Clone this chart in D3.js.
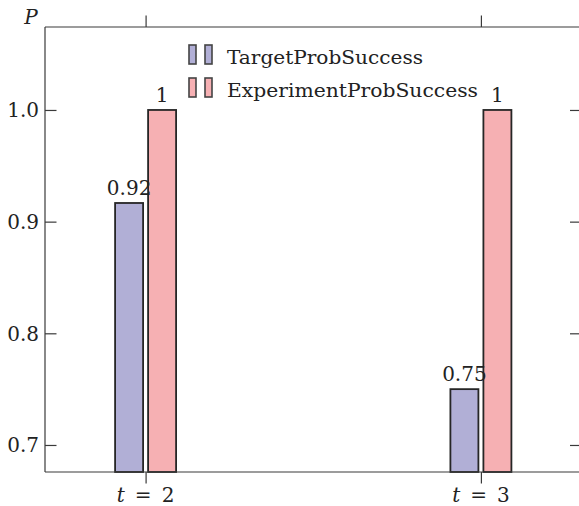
<!DOCTYPE html>
<html>
<head>
<meta charset="utf-8">
<script src="https://cdn.jsdelivr.net/npm/d3@7/dist/d3.min.js"></script>
<style>
  html, body { margin: 0; padding: 0; background: #fff; }
  svg { display: block; }
</style>
</head>
<body>
<svg id="chart" width="579" height="506"></svg>
<script>
// Time steps and the two series of success probabilities
const steps = [2, 3];
const targetProb = [0.9167, 0.75];
const experimentProb = [1.0, 1.0];
const targetLabels = ["0.92", "0.75"];
const experimentLabels = ["1", "1"];
const yTicks = [0.7, 0.8, 0.9, 1.0];
const seriesNames = ["TargetProbSuccess", "ExperimentProbSuccess"];

const colors = { target: "#b1afd6", experiment: "#f6b0b3", edge: "#262626", axis: "#3a3a3a", text: "#222" };
const serif = "'DejaVu Serif', 'Liberation Serif', serif";

const svg = d3.select("#chart")
  .attr("font-family", serif)
  .attr("fill", colors.text);
const plotL = 45, plotR = 581.5, plotT = 27, plotB = 472;

const x = d3.scaleLinear().domain([1.7, 3.3]).range([plotL, plotR]);
const y = d3.scaleLinear().domain([0.6758, 1.0743]).range([plotB, plotT]);

const barW = 28, barOff = 16.5, tickLen = 11.5;
const fontSize = 20;

// Bars
const bars = svg.append("g");
const rows = steps.map((t, i) => ({ t, target: targetProb[i], exp: experimentProb[i], tl: targetLabels[i], el: experimentLabels[i] }));

bars.selectAll("rect.target").data(rows).join("rect")
  .attr("class", "target")
  .attr("x", d => x(d.t) - barOff - barW / 2)
  .attr("y", d => y(d.target))
  .attr("width", barW)
  .attr("height", d => plotB - y(d.target))
  .attr("fill", colors.target)
  .attr("stroke", colors.edge)
  .attr("stroke-width", 1.8);

bars.selectAll("rect.exp").data(rows).join("rect")
  .attr("class", "exp")
  .attr("x", d => x(d.t) + barOff - barW / 2)
  .attr("y", d => y(d.exp))
  .attr("width", barW)
  .attr("height", d => plotB - y(d.exp))
  .attr("fill", colors.experiment)
  .attr("stroke", colors.edge)
  .attr("stroke-width", 1.8);

// Value labels above bars
bars.selectAll("text.tl").data(rows).join("text")
  .attr("class", "tl")
  .attr("x", d => x(d.t) - barOff)
  .attr("y", d => y(d.target) - 8)
  .attr("text-anchor", "middle")
  .attr("font-size", fontSize)
  .text(d => d.tl);

bars.selectAll("text.el").data(rows).join("text")
  .attr("class", "el")
  .attr("x", d => x(d.t) + barOff)
  .attr("y", d => y(d.exp) - 8)
  .attr("text-anchor", "middle")
  .attr("font-size", fontSize)
  .text(d => d.el);

// Axes frame (right spine falls just outside the view)
const frame = svg.append("g").attr("stroke", colors.axis).attr("stroke-width", 1.2).attr("fill", "none");
frame.append("line").attr("x1", plotL).attr("x2", plotL).attr("y1", plotT).attr("y2", plotB);
frame.append("line").attr("x1", plotL).attr("x2", plotR).attr("y1", plotB).attr("y2", plotB);
frame.append("line").attr("x1", plotL).attr("x2", plotR).attr("y1", plotT).attr("y2", plotT);
frame.append("line").attr("x1", plotR).attr("x2", plotR).attr("y1", plotT).attr("y2", plotB);

// Y ticks on both sides, pointing inward
const gL = svg.append("g").attr("transform", `translate(${plotL},0)`)
  .call(d3.axisRight(y).tickValues(yTicks).tickSize(tickLen).tickFormat(""));
gL.select(".domain").remove();
gL.selectAll("line").attr("stroke", colors.axis).attr("stroke-width", 1.2);

const gR = svg.append("g").attr("transform", `translate(${plotR},0)`)
  .call(d3.axisLeft(y).tickValues(yTicks).tickSize(tickLen).tickFormat(""));
gR.select(".domain").remove();
gR.selectAll("line").attr("stroke", colors.axis).attr("stroke-width", 1.2);

// Y tick labels
svg.append("g").selectAll("text").data(yTicks).join("text")
  .attr("x", plotL - 6)
  .attr("y", d => y(d) + 7.5)
  .attr("text-anchor", "end")
  .attr("font-size", fontSize)
  .text(d => d3.format(".1f")(d));

// X ticks pointing outward (bottom and top)
const gB = svg.append("g").attr("transform", `translate(0,${plotB})`)
  .call(d3.axisBottom(x).tickValues(steps).tickSize(tickLen).tickFormat(""));
gB.select(".domain").remove();
gB.selectAll("line").attr("stroke", colors.axis).attr("stroke-width", 1.2);

const gT = svg.append("g").attr("transform", `translate(0,${plotT})`)
  .call(d3.axisTop(x).tickValues(steps).tickSize(tickLen).tickFormat(""));
gT.select(".domain").remove();
gT.selectAll("line").attr("stroke", colors.axis).attr("stroke-width", 1.2);

// X tick labels: "t = n"
const xl = svg.append("g").selectAll("text").data(steps).join("text")
  .attr("x", d => x(d))
  .attr("y", 502)
  .attr("text-anchor", "middle")
  .attr("font-size", fontSize);
xl.append("tspan").attr("font-style", "italic").text("t");
xl.append("tspan").text("\u2002=\u2002");
xl.append("tspan").text(d => d);

// Y axis title
svg.append("text")
  .attr("x", 31).attr("y", 24)
  .attr("text-anchor", "middle")
  .attr("font-size", fontSize)
  .attr("font-style", "italic")
  .text("P");

// Legend
const legend = svg.append("g");
const legendRows = [
  { name: seriesNames[0], color: colors.target, y: 45, w: 196 },
  { name: seriesNames[1], color: colors.experiment, y: 78, w: 251 }
];
legendRows.forEach(it => {
  [189, 205].forEach(lx => {
    legend.append("rect")
      .attr("x", lx).attr("y", it.y)
      .attr("width", 7).attr("height", 19)
      .attr("fill", it.color)
      .attr("stroke", "#444")
      .attr("stroke-width", 1.6);
  });
  legend.append("text")
    .attr("x", 227).attr("y", it.y + 19)
    .attr("font-size", 19)
    .attr("textLength", it.w)
    .attr("lengthAdjust", "spacingAndGlyphs")
    .text(it.name);
});
</script>
</body>
</html>
